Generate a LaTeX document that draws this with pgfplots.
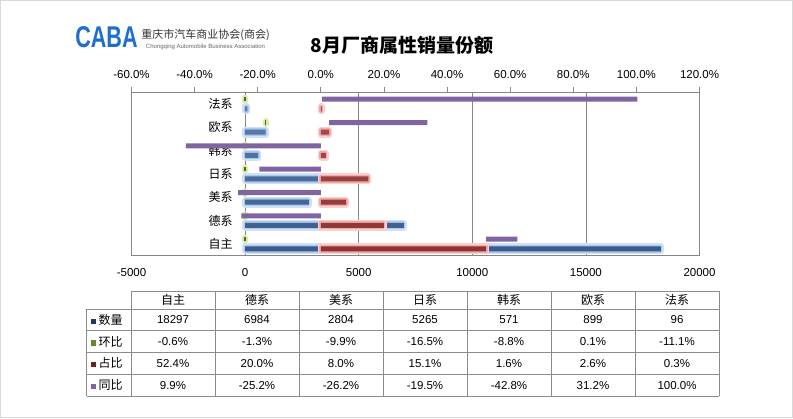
\documentclass[border=0pt]{standalone}
\usepackage{pgfplots}
\pgfplotsset{compat=1.18}
\usepackage{pgfplotstable}
\usepackage{fontspec}
\setmainfont{Liberation Sans}
\newfontfamily\cjk{Noto Sans CJK SC}

\definecolor{axgrey}{RGB}{134,134,134}
\definecolor{tblgrey}{RGB}{140,140,140}
\definecolor{framegrey}{RGB}{217,217,217}
\definecolor{blueglow}{RGB}{170,200,240}
\definecolor{bluetop}{RGB}{92,126,172}
\definecolor{bluemid}{RGB}{31,58,98}
\definecolor{bluebot}{RGB}{58,90,136}
\definecolor{pinkglow}{RGB}{244,170,170}
\definecolor{redtop}{RGB}{166,76,76}
\definecolor{redmid}{RGB}{110,30,30}
\definecolor{redbot}{RGB}{140,52,52}
\definecolor{greenglow}{RGB}{214,238,166}
\definecolor{greenline}{RGB}{79,98,40}
\definecolor{greenkey}{RGB}{104,132,52}
\definecolor{purp}{RGB}{128,100,162}
\definecolor{logoblue}{RGB}{30,110,210}

\pgfplotstableread{
idx qty hb zb tb
0 18297 -0.6 52.4 9.9
1 6984 -1.3 20.0 -25.2
2 2804 -9.9 8.0 -26.2
3 5265 -16.5 15.1 -19.5
4 571 -8.8 1.6 -42.8
5 899 0.1 2.6 31.2
6 96 -11.1 0.3 100.0
}\datatable

\pgfplotsset{
  frame axis/.style={
    scale only axis, width=568pt, height=163.4pt,
    at={(131.5pt,162.3pt)}, anchor=south west,
    ymin=-0.5, ymax=6.5,
    bar width=5pt,
  },
}

\begin{document}
\begin{tikzpicture}[x=1pt,y=1pt]
\useasboundingbox (0,0) rectangle (793,418);
\fill[white] (0,0) rectangle (793,418);
\draw[framegrey, line width=1pt] (0.5,0.5) rectangle (792.5,417.5);

% ---------- primary axis (数量, 环比) ----------
\begin{axis}[frame axis,
  xmin=-5000, xmax=20000,
  xtick={-5000,0,5000,10000,15000,20000},
  scaled x ticks=false,
  xmajorgrids, grid style={axgrey, line width=0.8pt},
  axis line style={axgrey, line width=0.8pt},
  xtick pos=left, ytick pos=left,
  major tick length=0pt,
  ytick={0,...,6},
  yticklabels={自主,德系,美系,日系,韩系,欧系,法系},
  yticklabel style={font=\cjk\fontsize{12}{12}\selectfont, anchor=east, inner sep=0pt, xshift=101.2pt},
  xticklabel style={font=\fontsize{11.5}{12}\selectfont, yshift=-9pt},
  /pgf/number format/assume math mode=true,
  /pgf/number format/set thousands separator={},
]
\addplot[xbar, bar shift=-4.8pt, fill=blueglow!55, draw=blueglow!55, line width=6pt, line join=round]
  table[x=qty, y=idx]{\datatable};
\addplot[xbar, bar shift=-4.8pt, fill=blueglow, draw=blueglow, line width=3pt, line join=round]
  table[x=qty, y=idx]{\datatable};
\addplot[xbar, bar shift=-4.8pt, draw=none, top color=bluetop, middle color=bluemid, bottom color=bluebot]
  table[x=qty, y=idx]{\datatable};
\addplot[only marks, mark=|, mark size=1.5pt, mark options={line width=6pt, line cap=round, draw=greenglow}]
  table[x expr={\thisrow{hb}>0 ? \thisrow{qty}+\thisrow{hb}/100 : \thisrow{hb}/100}, y expr=\thisrow{idx}+0.2056]{\datatable};
\addplot[only marks, mark=|, mark size=2.2pt, mark options={line width=1.3pt, draw=greenline}]
  table[x expr={\thisrow{hb}>0 ? \thisrow{qty}+\thisrow{hb}/100 : \thisrow{hb}/100}, y expr=\thisrow{idx}+0.2056]{\datatable};
\end{axis}

% ---------- secondary axis (占比) ----------
\begin{axis}[frame axis,
  xmin=-60, xmax=120,
  xtick={-60,-40,...,120},
  axis line style={draw=none},
  xtick pos=right, tick align=outside, ytick=\empty,
  major tick length=5pt, tick style={axgrey, line width=0.8pt},
  xticklabel={\pgfmathprintnumber[fixed,fixed zerofill,precision=1]{\tick}\%},
  xticklabel style={font=\fontsize{11.5}{12}\selectfont, yshift=5pt},
  /pgf/number format/assume math mode=true,
]
\addplot[xbar, bar shift=-4.8pt, fill=pinkglow!55, draw=pinkglow!55, line width=6pt, line join=round]
  table[x=zb, y=idx]{\datatable};
\addplot[xbar, bar shift=-4.8pt, fill=pinkglow, draw=pinkglow, line width=3pt, line join=round]
  table[x=zb, y=idx]{\datatable};
\addplot[xbar, bar shift=-4.8pt, draw=none, top color=redtop, middle color=redmid, bottom color=redbot]
  table[x=zb, y=idx]{\datatable};
\end{axis}

% ---------- secondary axis, stacked (同比 on top of 占比) ----------
\begin{axis}[frame axis, hide axis,
  xmin=-60, xmax=120,
  xbar stacked, bar shift=4.8pt,
]
\addplot[xbar stacked, bar shift=4.8pt, draw=none, fill=none]
  table[x expr={\thisrow{tb}>0 ? \thisrow{zb} : 0}, y=idx]{\datatable};
\addplot[xbar stacked, bar shift=4.8pt, draw=none, fill=purp]
  table[x=tb, y=idx]{\datatable};
\end{axis}

% ---------- header: logo and title ----------
\node[font=\fontsize{30}{30}\selectfont\bfseries, text=logoblue, xscale=0.72] at (106.5,381) {CABA};
\node[font=\cjk\fontsize{11}{11}\selectfont, text=black!80] at (205.5,383.5) {重庆市汽车商业协会(商会)};
\node[font=\fontsize{6}{6}\selectfont, text=black!60] at (205.5,371) {Chongqing Automobile Business Association};
\node[font=\cjk\bfseries\fontsize{19}{19}\selectfont] at (402,373) {8月厂商属性销量份额};

% ---------- data table ----------
\begin{scope}[tblgrey, line width=1pt]
\draw (131,126.7) -- (719,126.7);
\foreach \yy in {108.7,87.2,65.5,43.7,21.7} \draw (86.7,\yy) -- (719,\yy);
\draw (86.7,108.7) -- (86.7,21.7);
\foreach \xx in {131,215,299,383,467,551,635,719} \draw (\xx,126.7) -- (\xx,21.7);
\end{scope}
\foreach \c/\t in {173/自主,257/德系,341/美系,425/日系,509/韩系,593/欧系,677/法系}
  \node[font=\cjk\fontsize{12}{12}\selectfont] at (\c,117.7) {\t};
\foreach \c/\t in {173/18297,257/6984,341/2804,425/5265,509/571,593/899,677/96}
  \node[font=\fontsize{11.5}{12}\selectfont] at (\c,98) {\t};
\foreach \c/\t in {173/-0.6\%,257/-1.3\%,341/-9.9\%,425/-16.5\%,509/-8.8\%,593/0.1\%,677/-11.1\%}
  \node[font=\fontsize{11.5}{12}\selectfont] at (\c,76.3) {\t};
\foreach \c/\t in {173/52.4\%,257/20.0\%,341/8.0\%,425/15.1\%,509/1.6\%,593/2.6\%,677/0.3\%}
  \node[font=\fontsize{11.5}{12}\selectfont] at (\c,54.6) {\t};
\foreach \c/\t in {173/9.9\%,257/-25.2\%,341/-26.2\%,425/-19.5\%,509/-42.8\%,593/31.2\%,677/100.0\%}
  \node[font=\fontsize{11.5}{12}\selectfont] at (\c,32.7) {\t};
\foreach \yy/\col/\t in {98/bluemid/数量,76.3/greenkey/环比,54.6/redmid/占比,32.7/purp/同比}
  \node[anchor=west, inner sep=0pt, font=\cjk\fontsize{12}{12}\selectfont] at (90.5,\yy) {\textcolor{\col}{\rule[0.5pt]{5.5pt}{5.5pt}}\hspace{2.5pt}\t};
\end{tikzpicture}
\end{document}
